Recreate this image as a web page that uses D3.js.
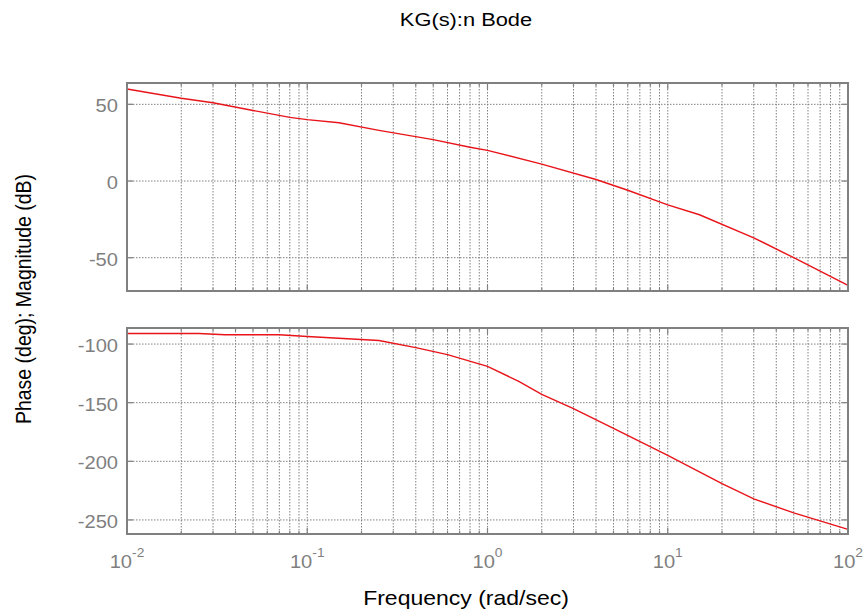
<!DOCTYPE html>
<html>
<head>
<title>KG(s):n Bode</title>
<script src="https://d3js.org/d3.v7.min.js"></script>
<style>
    body { margin: 0; background: #fff; font-family: "Liberation Sans", Arial, sans-serif; }
    .grid line { stroke: #808080; stroke-width: 1; stroke-dasharray: 1.5 1.5; }
    .tick-label { fill: #7f7f7f; font-size: 17.5px; }
</style>
</head>
<body>
<div id="chart"></div>
<script>
    // Frequency samples (rad/sec) and responses
    const magFreq = [0.01, 0.02, 0.03, 0.05, 0.08, 0.1, 0.15, 0.25, 0.5, 0.8, 1, 2, 4, 6, 10, 15, 30, 50, 100];
    const magDb   = [60, 54, 51, 46, 41.5, 40, 38, 33, 27, 22, 20, 11, 1, -6, -15.5, -22, -37, -50, -68];

    const phaseFreq = [0.01, 0.025, 0.035, 0.07, 0.1, 0.25, 0.4, 0.6, 1, 1.5, 2, 3, 5, 10, 20, 30, 50, 100];
    const phaseDeg  = [-91, -91, -92, -92, -93.5, -97, -103, -109, -119, -132, -143, -155, -172, -195, -219, -232, -244, -258];

    const magTicks = [-50, 0, 50];
    const phaseTicks = [-250, -200, -150, -100];
    const decades = [0.01, 0.1, 1, 10, 100];

    const W = 867, H = 611;
    const left = 127, right = 848;
    const magBox = { top: 83, bottom: 291 };
    const phBox = { top: 328, bottom: 534 };
    const sx = 1.15; // text in the reference is stretched horizontally

    const svg = d3.select("#chart").append("svg")
        .attr("width", W).attr("height", H);

    const x = d3.scaleLog().domain([0.01, 100]).range([left, right]);

    // minor + major x ticks
    const xGridVals = [];
    decades.slice(0, 4).forEach(d => { for (let k = 1; k < 10; k++) xGridVals.push(d * k); });
    xGridVals.push(100);

    function label(px, py, anchor) {
        return svg.append("text")
            .attr("transform", `translate(${px},${py}) scale(${sx},1)`)
            .attr("text-anchor", anchor);
    }

    function panel(box, domain, ticks, freq, vals) {
        const y = d3.scaleLinear().domain(domain).range([box.bottom, box.top]);
        const g = svg.append("g");

        const grid = g.append("g").attr("class", "grid");
        grid.selectAll(".vx").data(xGridVals).enter().append("line")
            .attr("x1", d => x(d)).attr("x2", d => x(d))
            .attr("y1", box.top).attr("y2", box.bottom);
        grid.selectAll(".hy").data(ticks).enter().append("line")
            .attr("x1", left).attr("x2", right)
            .attr("y1", d => y(d)).attr("y2", d => y(d));

        // small tick marks at edges
        const tk = g.append("g").attr("stroke", "#808080").attr("stroke-width", 1.2);
        ticks.forEach(t => {
            tk.append("line").attr("x1", left).attr("x2", left + 6).attr("y1", y(t)).attr("y2", y(t));
            tk.append("line").attr("x1", right - 6).attr("x2", right).attr("y1", y(t)).attr("y2", y(t));
        });
        xGridVals.forEach(v => {
            const len = decades.includes(v) ? 6 : 3;
            tk.append("line").attr("x1", x(v)).attr("x2", x(v)).attr("y1", box.bottom).attr("y2", box.bottom - len);
            tk.append("line").attr("x1", x(v)).attr("x2", x(v)).attr("y1", box.top).attr("y2", box.top + len);
        });

        ticks.forEach(t => {
            label(left - 9, y(t) + 8, "end").attr("class", "tick-label").text(t);
        });

        const line = d3.line().x(d => x(d[0])).y(d => y(d[1]));
        g.append("path")
            .datum(freq.map((f, i) => [f, vals[i]]))
            .attr("fill", "none").attr("stroke", "#e8141a").attr("stroke-width", 1.4)
            .attr("d", line);

        g.append("rect")
            .attr("x", left).attr("y", box.top)
            .attr("width", right - left).attr("height", box.bottom - box.top)
            .attr("fill", "none").attr("stroke", "#808080").attr("stroke-width", 2);
        return y;
    }

    panel(magBox, [-71.7, 63.9], magTicks, magFreq, magDb);
    panel(phBox, [-262, -86.3], phaseTicks, phaseFreq, phaseDeg);

    // x tick labels 10^n
    decades.forEach(d => {
        const t = label(x(d), 568, "middle").attr("class", "tick-label");
        t.append("tspan").text("10");
        t.append("tspan").attr("dy", -11).attr("font-size", 12).text(Math.round(Math.log10(d)));
    });

    label(466, 26, "middle")
        .attr("font-size", 19).attr("fill", "#000")
        .text("KG(s):n Bode");

    label(466, 605, "middle")
        .attr("font-size", 20).attr("fill", "#000")
        .text("Frequency (rad/sec)");

    svg.append("text")
        .attr("transform", `translate(31,299) scale(${sx},1) rotate(-90)`)
        .attr("text-anchor", "middle")
        .attr("font-size", 19.5).attr("fill", "#000")
        .text("Phase (deg); Magnitude (dB)");
</script>
</body>
</html>
